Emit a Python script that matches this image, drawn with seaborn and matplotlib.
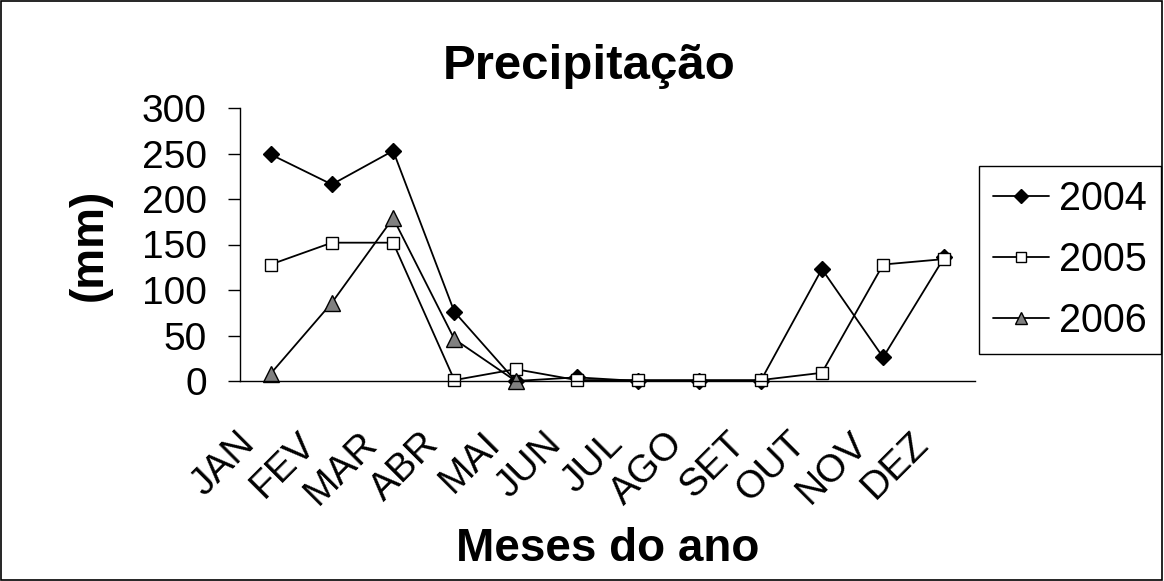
import matplotlib
matplotlib.use('Agg')
import numpy as np
import matplotlib.pyplot as plt
import matplotlib.transforms as mtransforms
from matplotlib.patches import Rectangle
import seaborn as sns

# dados (mm)
meses = ['JAN', 'FEV', 'MAR', 'ABR', 'MAI', 'JUN', 'JUL', 'AGO', 'SET', 'OUT', 'NOV', 'DEZ']
chuva_2004 = [249, 216, 253, 76, 0, 4, 0, 0, 0, 123, 26, 136]
chuva_2005 = [128, 152, 152, 1, 13, 1, 1, 1, 1, 9, 128, 134]
chuva_2006 = [8, 86, 179, 46, 0]
meses_2006 = meses[:len(chuva_2006)]

sns.set_style('white')
plt.rcParams['font.family'] = ['Liberation Sans', 'DejaVu Sans']
plt.rcParams['text.color'] = 'black'
plt.rcParams['axes.labelcolor'] = 'black'
plt.rcParams['xtick.color'] = 'black'
plt.rcParams['ytick.color'] = 'black'

fig = plt.figure(figsize=(11.64, 5.81), dpi=100)
ax = fig.add_axes([240 / 1164, 1 - 381 / 581, 735 / 1164, 273 / 581])

estilo = dict(color='black', linewidth=1.3, markeredgewidth=1.0,
              markeredgecolor='black', clip_on=False, sort=False)
sns.lineplot(x=meses, y=chuva_2004, ax=ax, marker='D', markersize=8.5,
             markerfacecolor='black', label='2004', **estilo)
sns.lineplot(x=meses, y=chuva_2005, ax=ax, marker='s', markersize=8.5,
             markerfacecolor='white', label='2005', **estilo)
sns.lineplot(x=meses_2006, y=chuva_2006, ax=ax, marker='^', markersize=11.5,
             markerfacecolor='#808080', label='2006', **estilo)

# eixos
ax.set_ylim(0, 300)
ax.set_yticks(np.arange(0, 301, 50))
ax.set_xlim(-0.5, 11.5)
ax.set_xticks(np.arange(-0.5, 12, 1))
ax.set_xticklabels([''] * 13)
ax.set_xticks(np.arange(12), minor=True)
ax.set_xticklabels(meses, minor=True, rotation=45, ha='right', va='top',
                   rotation_mode='anchor', fontsize=28)
ax.tick_params(axis='x', which='major', direction='out', length=9, width=1, color='black')
ax.tick_params(axis='x', which='minor', length=0, pad=32)
ax.tick_params(axis='y', direction='out', length=9, width=1, color='black',
               labelsize=28, pad=15, left=True)
desloc = mtransforms.ScaledTranslation(-34 / 100, 0, fig.dpi_scale_trans)
for lbl in ax.get_xticklabels(minor=True):
    lbl.set_transform(lbl.get_transform() + desloc)

for lado in ['top', 'right']:
    ax.spines[lado].set_visible(False)
for lado in ['left', 'bottom']:
    ax.spines[lado].set_color('black')
    ax.spines[lado].set_linewidth(1)
ax.grid(False)

# textos
ax.set_title('Precipitação', fontsize=35.5, fontweight='bold', color='black',
             x=(589 - 240) / 735, y=(381 - 79) / 273, pad=0)
ax.set_xlabel('Meses do ano', fontsize=33, fontweight='bold')
ax.xaxis.set_label_coords(0.5, (381 - 561) / 273)
ax.xaxis.label.set_va('baseline')
ax.set_ylabel('(mm)', fontsize=33, fontweight='bold')
ax.yaxis.set_label_coords((90 - 240) / 735, 0.5)
ax.yaxis.label.set_va('center')

# legenda
leg = ax.legend(loc='upper left', bbox_to_anchor=(979 / 1164, 1 - 166 / 581),
                bbox_transform=fig.transFigure, borderaxespad=0, fontsize=28.5,
                frameon=True, fancybox=False, edgecolor='black', framealpha=1,
                handlelength=1.4, handletextpad=0.25, borderpad=0.36,
                labelspacing=0.58, markerscale=0.8)
leg.get_frame().set_linewidth(1)

# moldura do gráfico
fig.patches.append(Rectangle((0.001, 0.002), 0.997, 0.996, transform=fig.transFigure,
                             fill=False, edgecolor='black', linewidth=1.2))

fig.savefig('out.png', dpi=100)
